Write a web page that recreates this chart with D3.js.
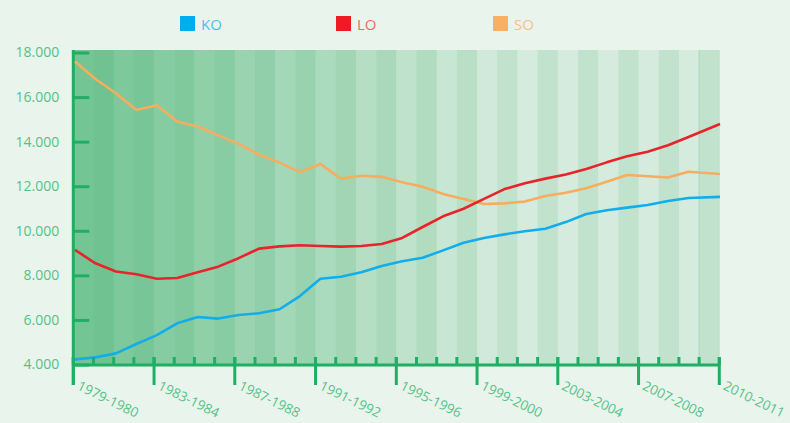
<!DOCTYPE html>
<html>
<head>
<meta charset="utf-8">
<script src="https://cdn.jsdelivr.net/npm/d3@7"></script>
<style>
  body { margin: 0; background: #e9f4ec; }
  svg { display: block; font-family: "Open Sans", sans-serif; }
</style>
</head>
<body>
<script>
// Saisons (eine Spalte pro Saison)
var seasons = ["1979-1980","1980-1981","1981-1982","1982-1983","1983-1984","1984-1985","1985-1986","1986-1987",
  "1987-1988","1988-1989","1989-1990","1990-1991","1991-1992","1992-1993","1993-1994","1994-1995",
  "1995-1996","1996-1997","1997-1998","1998-1999","1999-2000","2000-2001","2001-2002","2002-2003",
  "2003-2004","2004-2005","2005-2006","2006-2007","2007-2008","2008-2009","2009-2010","2010-2011"];

// Werte pro Reihe
var ko = [4230,4320,4500,4920,5320,5850,6130,6060,6220,6300,6480,7070,7850,7940,8140,8420,
  8630,8790,9120,9460,9680,9840,9980,10090,10390,10750,10920,11040,11160,11340,11470,11520];
var lo = [9140,8540,8170,8050,7850,7880,8140,8390,8770,9200,9300,9350,9320,9290,9320,9410,
  9680,10170,10650,10990,11430,11870,12130,12340,12530,12770,13070,13340,13550,13840,14210,14790];
var so = [17600,16810,16170,15420,15630,14900,14680,14280,13900,13420,13060,12630,13000,12340,12470,12420,
  12180,11980,11650,11430,11200,11230,11310,11560,11710,11910,12200,12500,12450,12390,12650,12550];

var seriesNames = ["KO","LO","SO"];
var yTicks = [4000,6000,8000,10000,12000,14000,16000,18000];
var xLabels = ["1979-1980","1983-1984","1987-1988","1991-1992","1995-1996","1999-2000","2003-2004","2007-2008","2010-2011"];

var width = 790, height = 423;
var lineColors = {KO: "#12adea", LO: "#e9232b", SO: "#f6ad5f"};
var textColors = {KO: "#4cbfe9", LO: "#ef6a6a", SO: "#f8c08c"};
var green = "#20ae64", labelGreen = "#55c287";

var svg = d3.select("body").append("svg")
    .attr("width", width)
    .attr("height", height);

// Skalen
var xBand = d3.scaleBand().domain(seasons).range([73.3, 719.3]);
var yScale = d3.scaleLinear().domain([4000, 18000]).range([364.5, 52.5]);
// Linienpunkte: letzte Saison im Original bis an den Rand gezogen
var xLine = d3.scaleLinear().domain([0, seasons.length - 2, seasons.length - 1]).range([75, 688.5, 720]);

// Hintergrund-Streifen
var evenCol = d3.interpolateRgb("#74c594", "#d5ebdd");
var oddCol = d3.interpolateRgb("#6cc18e", "#c1e2cc");
svg.append("g").selectAll("rect")
    .data(seasons)
    .join("rect")
    .attr("x", d => xBand(d))
    .attr("y", 50)
    .attr("width", xBand.bandwidth() + 0.5)
    .attr("height", 315)
    .attr("fill", (d, i) => {
      var t = Math.min(1, i / 21);
      return i % 2 ? oddCol(t) : evenCol(t);
    });
// feine Linie vor der letzten Saison
svg.append("line")
    .attr("x1", xBand(seasons[seasons.length - 1])).attr("x2", xBand(seasons[seasons.length - 1]))
    .attr("y1", 50).attr("y2", 365)
    .attr("stroke", "#a6d6b8").attr("stroke-width", 1);

// Y Achse
var fmt = d3.formatLocale({decimal: ",", thousands: ".", grouping: [3], currency: ["", "€"]}).format(",");
var yAxis = svg.append("g")
    .attr("transform", "translate(73.3,0)")
    .call(d3.axisLeft(yScale).tickValues(yTicks).tickSizeInner(-16).tickSizeOuter(0).tickPadding(14).tickFormat(fmt));
yAxis.select(".domain").remove();
yAxis.selectAll("line").attr("stroke", green).attr("stroke-width", 3);
yAxis.selectAll("text").attr("fill", labelGreen).attr("font-size", 14).attr("font-family", "Open Sans");
svg.append("line")
    .attr("x1", 73.3).attr("x2", 73.3).attr("y1", 50).attr("y2", 385)
    .attr("stroke", green).attr("stroke-width", 3);

// Linien
var line = d3.line()
    .x((d, i) => xLine(i))
    .y(d => yScale(d));
[["SO", so], ["LO", lo], ["KO", ko]].forEach(s => {
  svg.append("path")
      .datum(s[1])
      .attr("d", line)
      .attr("fill", "none")
      .attr("stroke", lineColors[s[0]])
      .attr("stroke-width", 2.6)
      .attr("stroke-linejoin", "round");
});

// X Achse
var ax = svg.append("g");
var tickPos = seasons.map(d => xBand(d)).concat([xBand.range()[1]]);
ax.append("line")
    .attr("x1", 73.3).attr("x2", 720).attr("y1", 365).attr("y2", 365)
    .attr("stroke", green).attr("stroke-width", 3);
ax.selectAll(".minor")
    .data(tickPos)
    .join("line")
    .attr("x1", d => d).attr("x2", d => d)
    .attr("y1", 357).attr("y2", 365)
    .attr("stroke", green).attr("stroke-width", 3);
var labelPos = xLabels.map((l, i) => i === xLabels.length - 1 ? xBand.range()[1] : xBand(l));
ax.selectAll(".major")
    .data(labelPos)
    .join("line")
    .attr("x1", d => d).attr("x2", d => d)
    .attr("y1", 357).attr("y2", 385)
    .attr("stroke", green).attr("stroke-width", 3);
ax.selectAll("text")
    .data(xLabels)
    .join("text")
    .attr("transform", (d, i) => "translate(" + (labelPos[i] + 3) + ",389) rotate(26)")
    .attr("fill", labelGreen)
    .attr("font-size", 13.5)
    .text(d => d);

// Legende
var legendX = [180, 336, 493];
var leg = svg.append("g").selectAll("g")
    .data(seriesNames)
    .join("g")
    .attr("transform", (d, i) => "translate(" + legendX[i] + ",16)");
leg.append("rect")
    .attr("width", 15).attr("height", 15)
    .attr("fill", d => d === "KO" ? "#00adef" : d === "LO" ? "#ed1c24" : "#fbb061");
leg.append("text")
    .attr("x", 21).attr("y", 14)
    .attr("font-size", 15)
    .attr("fill", d => textColors[d])
    .text(d => d);
</script>
</body>
</html>
